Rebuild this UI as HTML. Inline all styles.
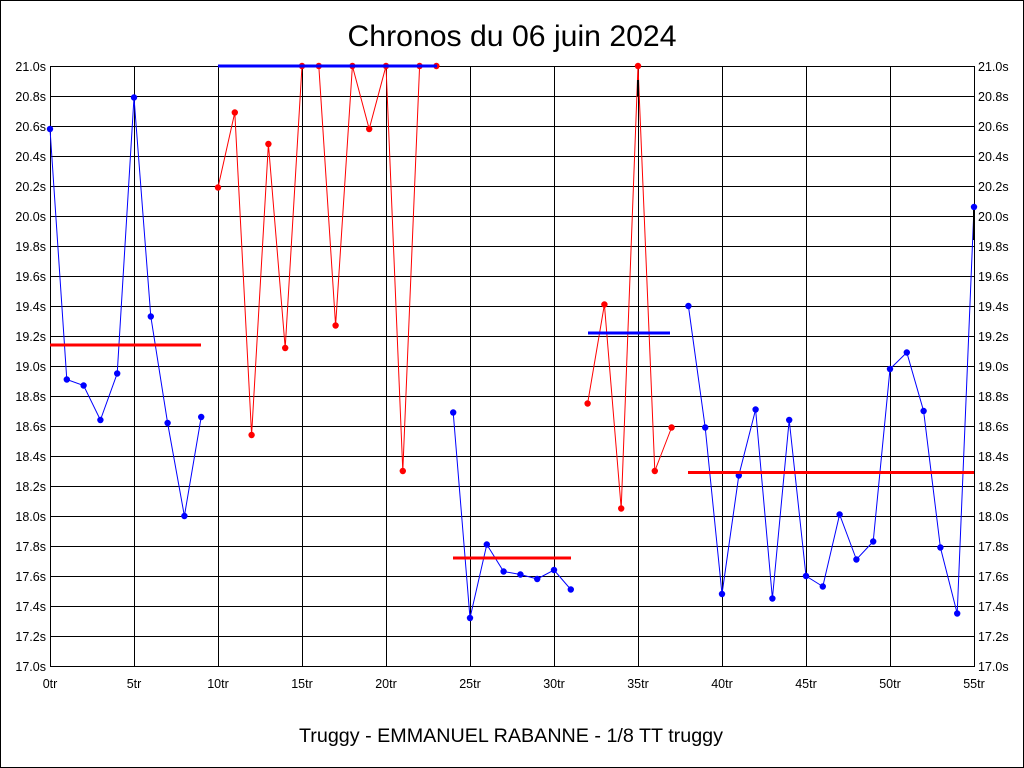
<!DOCTYPE html>
<html><head><meta charset="utf-8"><style>
html,body{margin:0;padding:0;background:#fff;}
svg{display:block;}
text{font-family:"Liberation Sans",sans-serif;}
</style></head><body>
<svg id="s" width="1024" height="768" xmlns="http://www.w3.org/2000/svg"></svg>
<script>
var s=document.getElementById('s'),h='';
h+='<rect x="0.5" y="0.5" width="1023" height="767" fill="#fff" stroke="#000"/>';
function X(i){return 50+i*924/55;}
function Y(v){return 666-(v-17)*150;}
for(var k=0;k<=20;k++){var y=66+k*30;h+='<line x1="50" y1="'+(y+0.5)+'" x2="974" y2="'+(y+0.5)+'" stroke="#000" shape-rendering="crispEdges"/>';
var lab=(21-k*0.2).toFixed(1)+'s';
h+='<text x="46" y="'+(y+5)+'" font-size="12.5" text-anchor="end">'+lab+'</text>';
h+='<text x="978" y="'+(y+5)+'" font-size="12.5">'+lab+'</text>';}
for(var t=0;t<=55;t+=5){var x=Math.round(X(t));h+='<line x1="'+(x+0.5)+'" y1="66" x2="'+(x+0.5)+'" y2="666" stroke="#000" shape-rendering="crispEdges"/>';
h+='<text x="'+x+'" y="688" font-size="12.5" text-anchor="middle">'+t+'tr</text>';}
h+='<rect x="50.5" y="66.5" width="924" height="600" fill="none" stroke="#000" shape-rendering="crispEdges"/>';
function seg(start,vals,col){var p=vals.map(function(v,i){return X(start+i).toFixed(1)+','+Y(v).toFixed(1)}).join(' ');
h+='<polyline points="'+p+'" fill="none" stroke="'+col+'" stroke-width="1"/>';
vals.forEach(function(v,i){h+='<circle cx="'+X(start+i).toFixed(1)+'" cy="'+Y(v).toFixed(1)+'" r="3.2" fill="'+col+'"/>';});}
function mean(x1,x2,v,col){h+='<line x1="'+x1+'" y1="'+Y(v)+'" x2="'+x2+'" y2="'+Y(v)+'" stroke="'+col+'" stroke-width="3"/>';}
seg(0,[20.58,18.91,18.87,18.64,18.95,20.79,19.33,18.62,18.00,18.66],'#00f');
mean(50,201,19.14,'#f00');
seg(10,[20.19,20.69,18.54,20.48,19.12,21,21,19.27,21,20.58,21,18.30,21,21],'#f00');
mean(218,437,21,'#00f');
seg(24,[18.69,17.32,17.81,17.63,17.61,17.58,17.64,17.51],'#00f');
mean(453,571,17.72,'#f00');
seg(32,[18.75,19.41,18.05,21,18.30,18.59],'#f00');
mean(588,670,19.22,'#00f');
seg(38,[19.40,18.59,17.48,18.27,18.71,17.45,18.64,17.60,17.53,18.01,17.71,17.83,18.98,19.09,18.70,17.79,17.35,20.06],'#00f');
mean(688,974,18.29,'#f00');
h+='<line x1="638" y1="80" x2="638" y2="96" stroke="#000" stroke-width="2"/>';
h+='<line x1="974" y1="210" x2="974" y2="240" stroke="#000" stroke-width="2"/>';
h+='<text x="512" y="46" font-size="30" text-anchor="middle" textLength="329" lengthAdjust="spacingAndGlyphs">Chronos du 06 juin 2024</text>';
h+='<text x="511" y="742" font-size="19.5" text-anchor="middle" textLength="424" lengthAdjust="spacingAndGlyphs">Truggy - EMMANUEL RABANNE - 1/8 TT truggy</text>';
s.innerHTML=h;
</script>
</body></html>
